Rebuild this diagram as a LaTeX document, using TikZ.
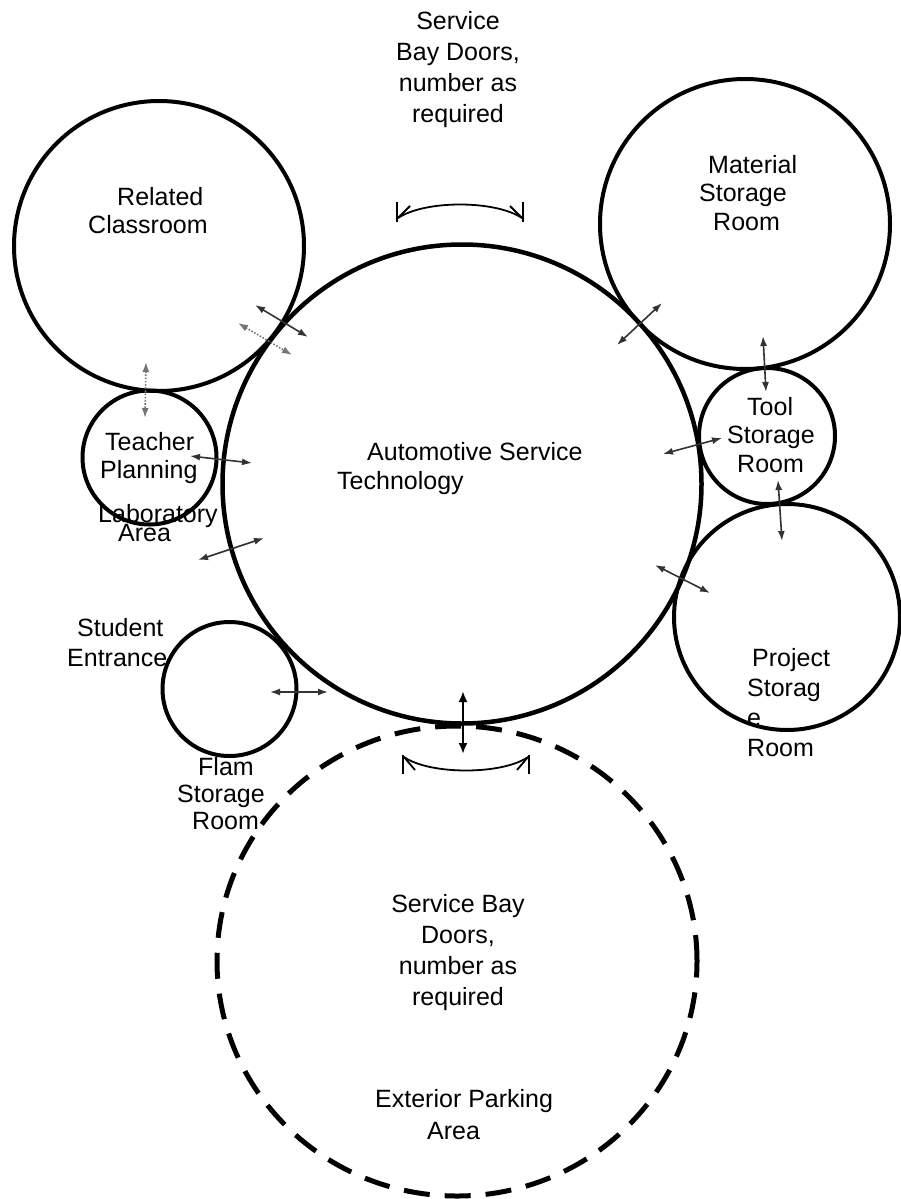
\documentclass[tikz,border=0pt]{standalone}
\usepackage{fontspec}
\setmainfont{Liberation Sans}
\usetikzlibrary{arrows.meta,shapes.geometric}
\newcommand{\tightlines}{\fontsize{25}{19}\selectfont\lineskiplimit-50pt\relax}
\begin{document}
\begin{tikzpicture}[x=1pt,y=-1pt,
  room/.style={circle,draw=black,line width=4pt,inner sep=0pt},
  lbl/.style={inner sep=0pt,anchor=north west,align=left,font=\fontsize{25}{28.5}\selectfont},
  conn/.style={draw=black!80,line width=1.6pt,{Latex[length=10pt,width=7pt]}-{Latex[length=10pt,width=7pt]}},
  dconn/.style={conn,draw=black!55,dash pattern=on 1.6pt off 1.6pt},
  bigconn/.style={draw=black,line width=2.4pt,{Latex[length=11pt,width=9pt]}-{Latex[length=11pt,width=9pt]}},
  door/.style={draw=black,line width=1.8pt}]
\useasboundingbox (0,0) rectangle (901,1199);
\fill[white] (0,0) rectangle (901,1199);
% rooms
\node[room,minimum size=290pt] (rc) at (159,246) {};
\node[room,minimum size=290pt] (ms) at (745,224) {};
\node[room,minimum size=134pt] (tp) at (149.5,457.5) {};
\node[room,minimum size=136pt] (ts) at (767,436) {};
\node[room,minimum size=226pt] (ps) at (787,617) {};
\node[room,minimum size=134pt] (fs) at (229.5,689) {};
\node[room,minimum size=479pt,line width=4.5pt] (ast) at (462,484) {};
\node[ellipse,draw=black,line width=5pt,dash pattern=on 26pt off 15pt,inner sep=0pt,minimum width=480pt,minimum height=470pt] (ext) at (457,961) {};
% labels
\node[lbl,anchor=north,align=center,font=\fontsize{25}{31}\selectfont] (t1) at (458,11) {Service\\Bay Doors,\\number as\\required};
\node[lbl] (t2) at (88,187) {\hspace*{29pt}Related\\Classroom};
\node[lbl] (t3) at (699,155) {\hspace*{9pt}Material\\Storage\\\hspace*{14pt}Room};
\node[lbl] (t4) at (727,397) {\hspace*{20pt}Tool\\Storage\\\hspace*{10pt}Room};
\node[lbl,font=\fontsize{25}{28}\selectfont] (t5) at (100,432) {\hspace*{5pt}Teacher\\Planning};
\node[lbl,font=\tightlines] (t6) at (98,504) {Laboratory\\\hspace*{20pt}Area};
\node[lbl,font=\fontsize{25}{29}\selectfont] (t7) at (337,442) {\hspace*{30pt}Automotive Service\\Technology};
\node[lbl,font=\fontsize{25}{30}\selectfont] (t8) at (67,618) {\hspace*{10pt}Student\\Entrance};
\node[lbl,font=\fontsize{25}{27}\selectfont] (t9) at (177,757) {\hspace*{21pt}Flam\\Storage\\\hspace*{15pt}Room};
\node[lbl,font=\fontsize{25}{30}\selectfont] (t10) at (747,648) {\hspace*{5pt}Project\\Storag\\e\\Room};
\node[lbl,anchor=north,align=center,font=\fontsize{25}{31}\selectfont] (t11) at (458,894) {Service Bay\\Doors,\\number as\\required};
\node[lbl,font=\fontsize{25}{32}\selectfont] (t12) at (375,1089) {Exterior Parking\\\hspace*{52pt}Area};
% connector end points
\coordinate (a1s) at (255,305); \coordinate (a1e) at (308,337);
\coordinate (a2s) at (238,323); \coordinate (a2e) at (292,355);
\coordinate (a3s) at (146,362); \coordinate (a3e) at (145,418);
\coordinate (a4s) at (190,456); \coordinate (a4e) at (252,463);
\coordinate (a5s) at (198,560); \coordinate (a5e) at (264,538);
\coordinate (a6s) at (270,692); \coordinate (a6e) at (328,692);
\coordinate (a7s) at (463,691); \coordinate (a7e) at (463,754);
\coordinate (a8s) at (617,345); \coordinate (a8e) at (662,303);
\coordinate (a9s) at (763,336); \coordinate (a9e) at (766,392);
\coordinate (a10s) at (663,454); \coordinate (a10e) at (722,438);
\coordinate (a11s) at (778,480); \coordinate (a11e) at (782,541);
\coordinate (a12s) at (655,565); \coordinate (a12e) at (710,593);
\draw[conn] (a1s) -- (a1e);
\draw[dconn] (a2s) -- (a2e);
\draw[dconn] (a3s) -- (a3e);
\draw[conn] (a4s) -- (a4e);
\draw[conn] (a5s) -- (a5e);
\draw[conn] (a6s) -- (a6e);
\draw[bigconn] (a7s) -- (a7e);
\draw[conn] (a8s) -- (a8e);
\draw[conn] (a9s) -- (a9e);
\draw[conn] (a10s) -- (a10e);
\draw[conn] (a11s) -- (a11e);
\draw[conn] (a12s) -- (a12e);
% door swing symbols
\draw[door] (397,202) -- (397,222);
\draw[door] (523,202) -- (523,222);
\draw[door] (398,218) .. controls (425,200) and (495,200) .. (522,218);
\draw[door] (398,218) -- (410,206);
\draw[door] (522,218) -- (510,206);
\draw[door] (403,755) -- (403,774);
\draw[door] (529,755) -- (529,774);
\draw[door] (404,757) .. controls (430,775) and (502,775) .. (528,757);
\draw[door] (404,757) -- (415,770);
\draw[door] (528,757) -- (517,770);
\end{tikzpicture}
\end{document}
